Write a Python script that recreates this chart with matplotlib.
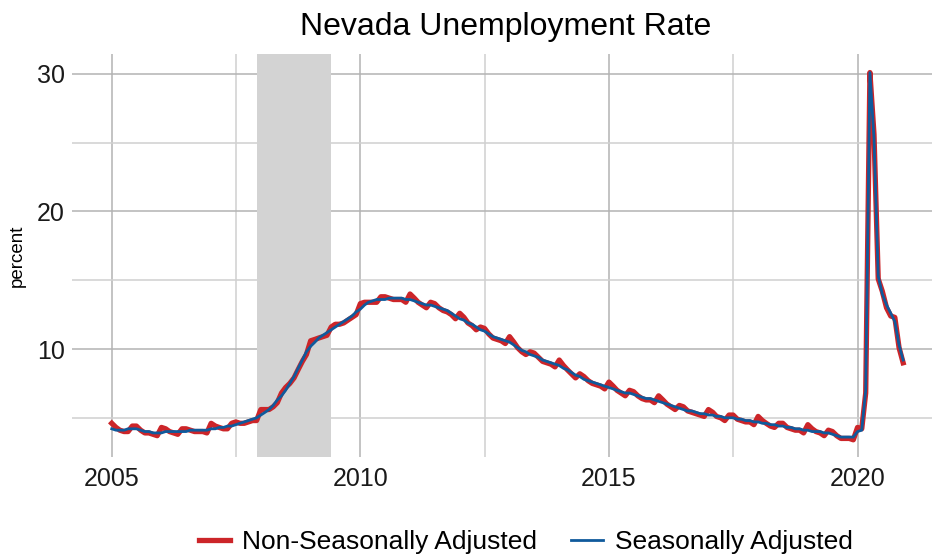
import numpy as np
import pandas as pd
import matplotlib
matplotlib.use("Agg")
from matplotlib import pyplot as plt

plt.rcParams['font.family'] = ['Liberation Sans', 'DejaVu Sans']

# monthly values, Jan 2005 - Dec 2020
seasonally_adjusted = [
    4.2, 4.1, 4.1, 4.1, 4.2, 4.2, 4.2, 4.1, 4.0, 4.0, 3.9, 3.9,
    3.9, 4.0, 4.0, 4.0, 4.0, 4.0, 4.0, 4.1, 4.1, 4.1, 4.1, 4.1,
    4.2, 4.2, 4.3, 4.3, 4.4, 4.4, 4.5, 4.6, 4.7, 4.8, 4.9, 5.0,
    5.2, 5.4, 5.6, 5.9, 6.3, 6.6, 7.0, 7.5, 8.0, 8.6, 9.2, 9.8,
    10.2, 10.5, 10.8, 11.0, 11.2, 11.4, 11.6, 11.8, 12.0, 12.2, 12.4, 12.7,
    12.9, 13.2, 13.4, 13.5, 13.6, 13.6, 13.6, 13.7, 13.7, 13.7, 13.7, 13.6,
    13.6, 13.5, 13.4, 13.3, 13.2, 13.2, 13.1, 13.0, 12.9, 12.8, 12.6, 12.4,
    12.2, 12.1, 11.9, 11.8, 11.6, 11.4, 11.3, 11.1, 10.9, 10.8, 10.7, 10.6,
    10.5, 10.3, 10.1, 9.9, 9.8, 9.6, 9.5, 9.4, 9.2, 9.1, 9.0, 8.9,
    8.8, 8.6, 8.5, 8.3, 8.1, 8.0, 7.8, 7.7, 7.6, 7.5, 7.4, 7.3,
    7.2, 7.1, 7.0, 6.9, 6.8, 6.8, 6.7, 6.6, 6.5, 6.4, 6.4, 6.3,
    6.2, 6.1, 6.0, 5.9, 5.8, 5.7, 5.6, 5.5, 5.5, 5.4, 5.3, 5.3,
    5.2, 5.2, 5.1, 5.1, 5.0, 5.0, 5.0, 4.9, 4.9, 4.8, 4.8, 4.7,
    4.7, 4.6, 4.6, 4.5, 4.5, 4.4, 4.4, 4.3, 4.3, 4.2, 4.2, 4.1,
    4.1, 4.0, 4.0, 4.0, 3.9, 3.9, 3.8, 3.7, 3.6, 3.6, 3.6, 3.6,
    4.0, 4.1, 7.0, 30.1, 25.3, 15.3, 14.0, 13.2, 12.6, 12.0, 10.3, 9.2,
]
non_seasonally_adjusted = [
    4.6, 4.3, 4.1, 4.0, 4.0, 4.4, 4.4, 4.1, 3.9, 3.9, 3.8, 3.7,
    4.3, 4.2, 4.0, 3.9, 3.8, 4.2, 4.2, 4.1, 4.0, 4.0, 4.0, 3.9,
    4.6, 4.4, 4.3, 4.2, 4.2, 4.6, 4.7, 4.6, 4.6, 4.7, 4.8, 4.8,
    5.6, 5.6, 5.6, 5.8, 6.1, 6.8, 7.2, 7.5, 7.9, 8.5, 9.1, 9.6,
    10.6, 10.7, 10.8, 10.9, 11.0, 11.6, 11.8, 11.8, 11.9, 12.1, 12.3, 12.5,
    13.3, 13.4, 13.4, 13.4, 13.4, 13.8, 13.8, 13.7, 13.6, 13.6, 13.6, 13.4,
    14.0, 13.7, 13.4, 13.2, 13.0, 13.4, 13.3, 13.0, 12.8, 12.7, 12.5, 12.2,
    12.6, 12.3, 11.9, 11.7, 11.4, 11.6, 11.5, 11.1, 10.8, 10.7, 10.6, 10.4,
    10.9, 10.5, 10.1, 9.8, 9.6, 9.8, 9.7, 9.4, 9.1, 9.0, 8.9, 8.7,
    9.2, 8.8, 8.5, 8.2, 7.9, 8.2, 8.0, 7.7, 7.5, 7.4, 7.3, 7.1,
    7.6, 7.3, 7.0, 6.8, 6.6, 7.0, 6.9, 6.6, 6.4, 6.3, 6.3, 6.1,
    6.6, 6.3, 6.0, 5.8, 5.6, 5.9, 5.8, 5.5, 5.4, 5.3, 5.2, 5.1,
    5.6, 5.4, 5.1, 5.0, 4.8, 5.2, 5.2, 4.9, 4.8, 4.7, 4.7, 4.5,
    5.1, 4.8, 4.6, 4.4, 4.3, 4.6, 4.6, 4.3, 4.2, 4.1, 4.1, 3.9,
    4.5, 4.2, 4.0, 3.9, 3.7, 4.1, 4.0, 3.7, 3.5, 3.5, 3.5, 3.4,
    4.3, 4.2, 6.8, 30.1, 25.6, 15.1, 14.2, 13.0, 12.4, 12.3, 10.1, 9.0,
]
dates = pd.date_range("2005-01-01", periods=len(seasonally_adjusted), freq="MS")
recession = ("2007-12-01", "2009-06-01")
year_ticks = [2005, 2010, 2015, 2020]
minor_years = [2007, 2012, 2017]
y_ticks = [10, 20, 30]
y_minor = [5, 15, 25]

fig = plt.figure(figsize=(9.32, 5.54), dpi=100)
ax = fig.add_axes([72 / 932, 97 / 554, 860 / 932, 403 / 554])

ax.axvspan(pd.Timestamp(recession[0]), pd.Timestamp(recession[1]),
           color="#d3d3d3", zorder=1, lw=0)
ax.plot(dates, non_seasonally_adjusted, color="#cc2529", lw=3.8,
        label="Non-Seasonally Adjusted", zorder=3, solid_joinstyle="round")
ax.plot(dates, seasonally_adjusted, color="#0f5a9c", lw=2.0,
        label="Seasonally Adjusted", zorder=4)

ax.set_xlim(pd.Timestamp("2004-03-15"), pd.Timestamp("2021-07-01"))
ax.set_ylim(2.15, 31.45)
ax.set_xticks([pd.Timestamp(f"{y}-01-01") for y in year_ticks])
ax.set_xticklabels([str(y) for y in year_ticks])
ax.set_xticks([pd.Timestamp(f"{y}-07-02") for y in minor_years], minor=True)
ax.set_yticks(y_ticks)
ax.set_yticks(y_minor, minor=True)

ax.grid(which="major", color="#b3b3b3", lw=1.1, zorder=0)
ax.grid(which="minor", color="#d0d0d0", lw=1.1, zorder=0)
ax.set_axisbelow(True)
for s in ax.spines.values():
    s.set_visible(False)
ax.tick_params(which="both", length=0, labelsize=18, colors="#1a1a1a", pad=7)
ax.tick_params(axis="y", pad=5)

ax.set_ylabel("percent", fontsize=13.5, labelpad=8)
fig.suptitle("Nevada Unemployment Rate", fontsize=23, y=0.978, x=0.543)

fig.legend(loc="lower center", bbox_to_anchor=(0.564, -0.043), ncol=2,
           frameon=False, fontsize=19, handlelength=1.2, handletextpad=0.45,
           columnspacing=1.3)

fig.savefig("out.png", dpi=100)
